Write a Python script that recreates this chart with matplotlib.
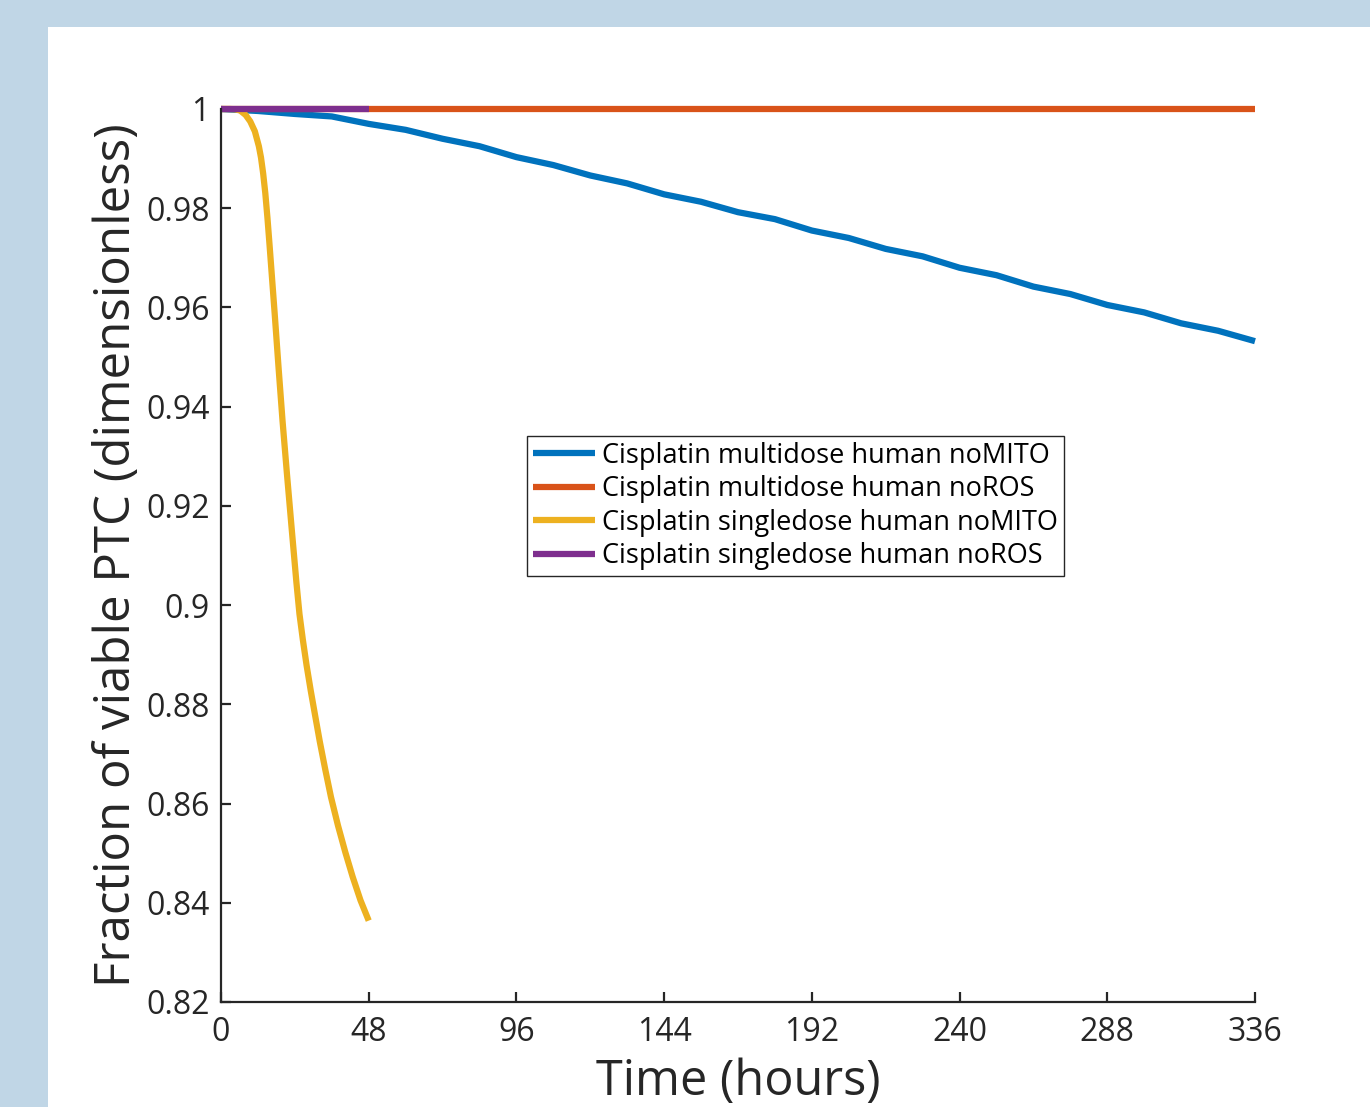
import numpy as np
import matplotlib
matplotlib.use('Agg')
import matplotlib.pyplot as plt
from matplotlib.patches import Rectangle
from matplotlib.ticker import FormatStrFormatter

plt.rcParams['font.family'] = ['Open Sans', 'DejaVu Sans']

# multidose noMITO (blue)
t_multi_mito = [0, 12, 24, 36, 48, 60, 72, 84, 96, 108, 120, 132, 144, 156, 168,
                180, 192, 204, 216, 228, 240, 252, 264, 276, 288, 300, 312, 324, 336]
v_multi_mito = [1.0, 0.9996, 0.9990, 0.9985, 0.9970, 0.9958, 0.9940, 0.9925, 0.9903,
                0.9887, 0.9866, 0.9850, 0.9828, 0.9813, 0.9792, 0.9778, 0.9755, 0.9740,
                0.9718, 0.9703, 0.9680, 0.9665, 0.9642, 0.9627, 0.9605, 0.9590, 0.9568,
                0.9553, 0.9532]

# multidose noROS (orange)
t_multi_ros = [0, 336]
v_multi_ros = [1.0, 1.0]

# singledose noMITO (yellow)
t_single_mito = [0, 3, 4.5, 6.2, 8.0, 9.5, 11.0, 12.3, 13.0, 13.7, 14.4, 15.1,
                 15.8, 16.15, 17.45, 18.7, 20.0, 21.45, 22.97, 24.5, 25.5, 26.6,
                 27.8, 29.15, 30.6, 32.1, 33.9, 35.74, 38.0, 40.39, 42.8, 45.33, 48.0]
v_single_mito = [1.0, 1.0, 0.99995, 0.9997, 0.9988, 0.9975, 0.9955, 0.9925, 0.9902,
                 0.9870, 0.9830, 0.9780, 0.9724, 0.9695, 0.9587, 0.9479, 0.9371,
                 0.9263, 0.9154, 0.9046, 0.8982, 0.8930, 0.8879, 0.8828, 0.8777,
                 0.8725, 0.8668, 0.8613, 0.8556, 0.8502, 0.8452, 0.8405, 0.8364]

# singledose noROS (purple)
t_single_ros = [0, 48]
v_single_ros = [1.0, 1.0]

labels = ['Cisplatin multidose human noMITO', 'Cisplatin multidose human noROS',
          'Cisplatin singledose human noMITO', 'Cisplatin singledose human noROS']
colors = ['#0072BD', '#D95319', '#EDB120', '#7E2F8E']

W, H = 1370, 1107
fig = plt.figure(figsize=(W / 100, H / 100), dpi=100, facecolor='#C0D6E6')
fig.patches.append(Rectangle((48 / W, 0), 1 - 48 / W, 1 - 27 / H,
                             transform=fig.transFigure, facecolor='white',
                             edgecolor='none', zorder=-10))

ax = fig.add_axes([221 / W, (H - 1002) / H, (1255 - 221) / W, (1002 - 109) / H])
ax.set_facecolor('none')
ax.set_zorder(5)

series = [(t_multi_mito, v_multi_mito), (t_multi_ros, v_multi_ros),
          (t_single_mito, v_single_mito), (t_single_ros, v_single_ros)]
for (t, v), c, lab in zip(series, colors, labels):
    ax.plot(t, v, color=c, linewidth=4.5, label=lab, solid_capstyle='butt',
            solid_joinstyle='round', clip_on=False)

ax.set_xlim(0, 336)
ax.set_ylim(0.82, 1.0)
ax.set_xticks(np.arange(0, 337, 48))
ax.set_yticks(np.arange(0.82, 1.001, 0.02))
ax.yaxis.set_major_formatter(FormatStrFormatter('%g'))

for side in ['top', 'right']:
    ax.spines[side].set_visible(False)
for side in ['left', 'bottom']:
    ax.spines[side].set_linewidth(1.6)
    ax.spines[side].set_color('#262626')

ax.tick_params(direction='in', length=7.5, width=1.6, color='#262626',
               labelsize=23, labelcolor='#262626')
ax.tick_params(axis='y', pad=8)
ax.tick_params(axis='x', pad=10)

ax.set_xlabel('Time (hours)', fontsize=35, color='#262626')
ax.set_ylabel('Fraction of viable PTC (dimensionless)', fontsize=35.5, color='#262626')
ax.xaxis.set_label_coords(0.5, -0.0895)
ax.xaxis.label.set_va('center')
ax.yaxis.set_label_coords(-0.1, 0.5)
ax.yaxis.label.set_va('center')

leg = ax.legend(loc='upper left', bbox_to_anchor=(527 / W, 1 - 436 / H),
                bbox_transform=fig.transFigure, borderaxespad=0, fontsize=19.5,
                frameon=True, fancybox=False, framealpha=1, edgecolor='#262626',
                handlelength=2.3, handletextpad=0.25, labelspacing=0.2,
                borderpad=0.22)
leg.get_frame().set_linewidth(1.0)
for txt in leg.get_texts():
    txt.set_color('black')

fig.savefig('out.png', dpi=100, facecolor=fig.get_facecolor())
